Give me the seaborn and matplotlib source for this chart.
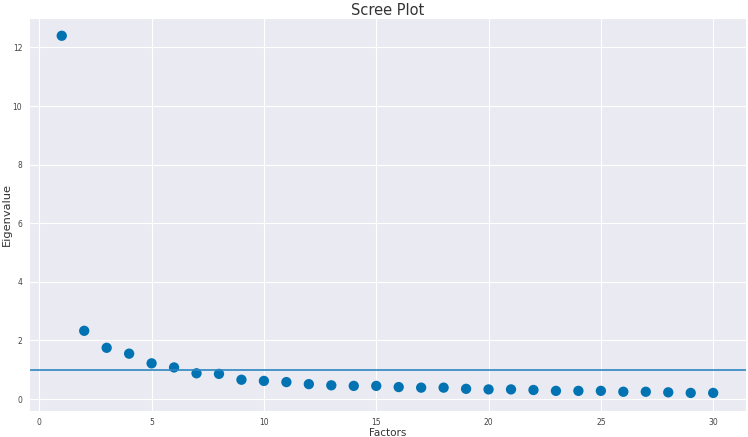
import numpy as np
import pandas as pd
import matplotlib
matplotlib.use('Agg')
import matplotlib.pyplot as plt
import seaborn as sns

# eigenvalues
factors = list(range(1, 31))
eigenvalues = [12.40, 2.33, 1.75, 1.55, 1.22, 1.08, 0.88, 0.86, 0.66, 0.62,
               0.58, 0.51, 0.47, 0.45, 0.45, 0.41, 0.39, 0.39, 0.35, 0.33,
               0.33, 0.31, 0.28, 0.28, 0.28, 0.25, 0.25, 0.23, 0.21, 0.21]
cutoff = 1.0

df = pd.DataFrame({'Factors': factors, 'Eigenvalue': eigenvalues})

sns.set_style("darkgrid")
fig = plt.figure(figsize=(7.48, 4.37), dpi=100)
ax = fig.add_axes([0.039, 0.06, 0.958, 0.899])

sns.scatterplot(data=df, x='Factors', y='Eigenvalue', ax=ax,
                color='#0173b2', s=55, edgecolor='none')
ax.axhline(cutoff, color='#2e86c1', linewidth=1.2)

ax.set_title('Scree Plot', fontsize=10.5, color='#333333', pad=2)
ax.set_xlabel('Factors', fontsize=7.5, color='#333333', labelpad=1)
ax.set_ylabel('Eigenvalue', fontsize=8.2, color='#333333')
# keep the y label inside the figure
ax.yaxis.set_label_coords(-0.024, 0.5)
ax.tick_params(axis='both', labelsize=5.5, colors='#444444', pad=1.5)

fig.savefig('out.png', dpi=100)
